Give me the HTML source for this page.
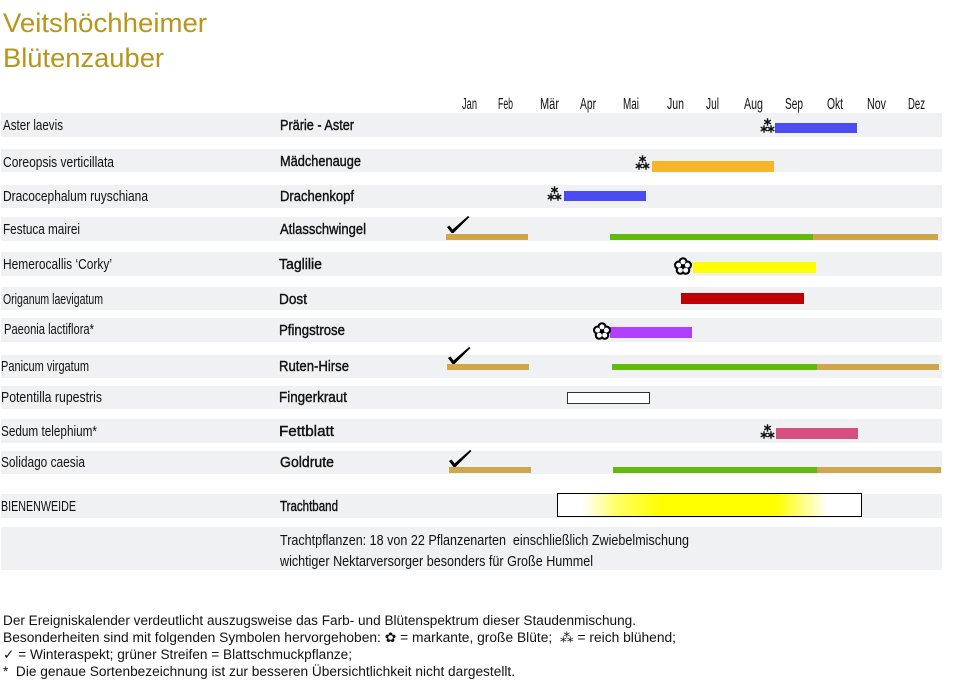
<!DOCTYPE html>
<html><head><meta charset="utf-8">
<style>
html,body{margin:0;padding:0;background:#fff;}
body{width:957px;height:691px;position:relative;overflow:hidden;font-family:"Liberation Sans","DejaVu Sans",sans-serif;color:#111;}
.b{position:absolute;background:#eff1f2;left:1px;width:941px;}
.r{position:absolute;}
.t{position:absolute;white-space:nowrap;font-size:15px;line-height:18px;height:18px;}
.t span{display:inline-block;transform-origin:0 50%;white-space:nowrap;}
.c{-webkit-text-stroke:0.4px #111;}
.m{font-size:15.5px;}
.title{font-size:27px;line-height:32px;height:32px;color:#b6961c;}
.f{font-size:13.5px;line-height:16px;height:16px;}
svg{position:absolute;overflow:visible;}
</style></head><body>

<div class="t title" style="left:3px;top:7px;width:204px"><span>Veitshöchheimer</span></div>
<div class="t title" style="left:3px;top:42px;width:161px"><span>Blütenzauber</span></div>

<!-- month labels -->
<div class="t m" style="left:462px;top:96px;width:15px"><span>Jan</span></div>
<div class="t m" style="left:498px;top:96px;width:15px"><span>Feb</span></div>
<div class="t m" style="left:540px;top:96px;width:19px"><span>Mär</span></div>
<div class="t m" style="left:580px;top:96px;width:16px"><span>Apr</span></div>
<div class="t m" style="left:623px;top:96px;width:16px"><span>Mai</span></div>
<div class="t m" style="left:667px;top:96px;width:17px"><span>Jun</span></div>
<div class="t m" style="left:706px;top:96px;width:13px"><span>Jul</span></div>
<div class="t m" style="left:744px;top:96px;width:19px"><span>Aug</span></div>
<div class="t m" style="left:785px;top:96px;width:18px"><span>Sep</span></div>
<div class="t m" style="left:827px;top:96px;width:16px"><span>Okt</span></div>
<div class="t m" style="left:867px;top:96px;width:19px"><span>Nov</span></div>
<div class="t m" style="left:908px;top:96px;width:17px"><span>Dez</span></div>

<!-- bands -->
<div class="b" style="top:113px;height:24px"></div>
<div class="b" style="top:149px;height:23px"></div>
<div class="b" style="top:185px;height:23px"></div>
<div class="b" style="top:217px;height:24px"></div>
<div class="b" style="top:252px;height:24px"></div>
<div class="b" style="top:287px;height:23px"></div>
<div class="b" style="top:318px;height:24px"></div>
<div class="b" style="top:355px;height:23px"></div>
<div class="b" style="top:386px;height:23px"></div>
<div class="b" style="top:419px;height:24px"></div>
<div class="b" style="top:451px;height:23px"></div>
<div class="b" style="top:494px;height:24px"></div>
<div class="b" style="top:527px;height:43px"></div>

<!-- left labels -->
<div class="t" style="left:3px;top:117px;width:60px"><span>Aster laevis</span></div>
<div class="t" style="left:3px;top:154px;width:111px"><span>Coreopsis verticillata</span></div>
<div class="t" style="left:3px;top:188px;width:145px"><span>Dracocephalum ruyschiana</span></div>
<div class="t" style="left:3px;top:221px;width:77px"><span>Festuca mairei</span></div>
<div class="t" style="left:3px;top:256px;width:109px"><span>Hemerocallis ‘Corky’</span></div>
<div class="t" style="left:3px;top:291px;width:100px"><span>Origanum laevigatum</span></div>
<div class="t" style="left:4px;top:321px;width:90px"><span>Paeonia lactiflora*</span></div>
<div class="t" style="left:1px;top:358px;width:88px"><span>Panicum virgatum</span></div>
<div class="t" style="left:1px;top:389px;width:101px"><span>Potentilla rupestris</span></div>
<div class="t" style="left:1px;top:423px;width:96px"><span>Sedum telephium*</span></div>
<div class="t" style="left:1px;top:454px;width:84px"><span>Solidago caesia</span></div>
<div class="t" style="left:1px;top:498px;width:75px"><span>BIENENWEIDE</span></div>

<!-- common names -->
<div class="t c" style="left:280px;top:117px;width:74px"><span>Prärie - Aster</span></div>
<div class="t c" style="left:280px;top:153px;width:81px"><span>Mädchenauge</span></div>
<div class="t c" style="left:280px;top:188px;width:74px"><span>Drachenkopf</span></div>
<div class="t c" style="left:280px;top:221px;width:86px"><span>Atlasschwingel</span></div>
<div class="t c" style="left:279px;top:256px;width:43px"><span>Taglilie</span></div>
<div class="t c" style="left:279px;top:291px;width:28px"><span>Dost</span></div>
<div class="t c" style="left:279px;top:322px;width:66px"><span>Pfingstrose</span></div>
<div class="t c" style="left:279px;top:358px;width:70px"><span>Ruten-Hirse</span></div>
<div class="t c" style="left:279px;top:389px;width:68px"><span>Fingerkraut</span></div>
<div class="t c" style="left:279px;top:423px;width:55px"><span>Fettblatt</span></div>
<div class="t c" style="left:280px;top:454px;width:54px"><span>Goldrute</span></div>
<div class="t c" style="left:280px;top:498px;width:58px"><span>Trachtband</span></div>
<div class="t" style="left:280px;top:532px;width:409px"><span>Trachtpflanzen: 18 von 22 Pflanzenarten&nbsp; einschließlich Zwiebelmischung</span></div>
<div class="t" style="left:280px;top:553px;width:313px"><span>wichtiger Nektarversorger besonders für Große Hummel</span></div>

<!-- bars -->
<div class="r" style="left:775px;top:123px;width:82px;height:10px;background:#4b4bf3"></div>
<div class="r" style="left:652px;top:161px;width:122px;height:11px;background:#f7b52a"></div>
<div class="r" style="left:564px;top:191px;width:82px;height:10px;background:#4b4bf3"></div>
<div class="r" style="left:446px;top:234px;width:82px;height:6px;background:#d0a64a"></div>
<div class="r" style="left:610px;top:234px;width:203px;height:6px;background:#62bb0b"></div>
<div class="r" style="left:813px;top:234px;width:125px;height:6px;background:#d0a64a"></div>
<div class="r" style="left:693px;top:262px;width:123px;height:11px;background:#ffff00"></div>
<div class="r" style="left:681px;top:293px;width:123px;height:11px;background:#c00000"></div>
<div class="r" style="left:610px;top:327px;width:82px;height:11px;background:#b040fb"></div>
<div class="r" style="left:447px;top:364px;width:82px;height:6px;background:#d0a64a"></div>
<div class="r" style="left:612px;top:364px;width:205px;height:6px;background:#62bb0b"></div>
<div class="r" style="left:817px;top:364px;width:122px;height:6px;background:#d0a64a"></div>
<div class="r" style="left:567px;top:392px;width:81px;height:10px;background:#fff;border:1px solid #333"></div>
<div class="r" style="left:776px;top:428px;width:82px;height:11px;background:#d5507e"></div>
<div class="r" style="left:449px;top:467px;width:82px;height:6px;background:#d0a64a"></div>
<div class="r" style="left:613px;top:467px;width:204px;height:6px;background:#62bb0b"></div>
<div class="r" style="left:817px;top:467px;width:124px;height:6px;background:#d0a64a"></div>
<div class="r" style="left:557px;top:493px;width:303px;height:22px;border:1.5px solid #000;background:linear-gradient(to right,#fff 8%,#ffff60 20%,#ffff00 34%,#ffff00 72%,#fff 89%)"></div>

<!-- symbol defs -->
<svg width="0" height="0" style="left:0;top:0">
  <defs>
    <g id="ast">
      <path d="M0,-3.8V3.8M-3.3,-1.9L3.3,1.9M-3.3,1.9L3.3,-1.9" stroke="#111" stroke-width="1.4" fill="none"/>
    </g>
    <g id="asm">
      <use href="#ast" x="7.5" y="4"/>
      <use href="#ast" x="4" y="11"/>
      <use href="#ast" x="11" y="11"/>
    </g>
    <g id="flw">
      <g fill="#000">
        <circle cx="0" cy="-4.6" r="4.6"/><circle cx="4.4" cy="-1.4" r="4.6"/><circle cx="2.7" cy="3.7" r="4.6"/><circle cx="-2.7" cy="3.7" r="4.6"/><circle cx="-4.4" cy="-1.4" r="4.6"/>
      </g>
      <g fill="#fff">
        <circle cx="0" cy="-4.6" r="2.5"/><circle cx="4.4" cy="-1.4" r="2.5"/><circle cx="2.7" cy="3.7" r="2.5"/><circle cx="-2.7" cy="3.7" r="2.5"/><circle cx="-4.4" cy="-1.4" r="2.5"/>
      </g>
      <circle cx="0" cy="0" r="2" fill="#000"/>
    </g>
    <g id="chk">
      <path d="M0,11 L2.5,9.5 L5.5,13.5 L21,0 L22.5,1 L6.5,17 L4.5,17 Z" fill="#000"/>
    </g>
  </defs>
</svg>
<svg width="16" height="16" style="left:760px;top:118px"><use href="#asm"/></svg>
<svg width="16" height="16" style="left:635px;top:155px"><use href="#asm"/></svg>
<svg width="16" height="16" style="left:547px;top:186px"><use href="#asm"/></svg>
<svg width="16" height="16" style="left:760px;top:424px"><use href="#asm"/></svg>

<svg width="18" height="18" style="left:674px;top:258px"><use href="#flw" x="9" y="8.5"/></svg>
<svg width="18" height="18" style="left:593px;top:323px"><use href="#flw" x="9" y="8.5"/></svg>

<svg width="23" height="18" style="left:447px;top:216px"><use href="#chk"/></svg>
<svg width="23" height="18" style="left:448px;top:347px"><use href="#chk"/></svg>
<svg width="23" height="18" style="left:449px;top:450px"><use href="#chk"/></svg>

<!-- footer -->
<div class="t f" style="left:3px;top:613px;width:633px"><span>Der Ereigniskalender verdeutlicht auszugsweise das Farb- und Blütenspektrum dieser Staudenmischung.</span></div>
<div class="t f" style="left:3px;top:630px;width:673px"><span>Besonderheiten sind mit folgenden Symbolen hervorgehoben: ✿ = markante, große Blüte;&nbsp; ⁂ = reich blühend;</span></div>
<div class="t f" style="left:3px;top:647px;width:349px"><span>✓ = Winteraspekt; grüner Streifen = Blattschmuckpflanze;</span></div>
<div class="t f" style="left:3px;top:664px;width:512px"><span>*&nbsp; Die genaue Sortenbezeichnung ist zur besseren Übersichtlichkeit nicht dargestellt.</span></div>

<script>
document.querySelectorAll('.t').forEach(function(e){
  var s=e.firstElementChild; if(!s) return;
  var w=parseFloat(e.style.width);
  var n=s.getBoundingClientRect().width;
  if(n>0 && w>0){ s.style.transform='scaleX('+(w/n)+')'; }
});
</script>
</body></html>
